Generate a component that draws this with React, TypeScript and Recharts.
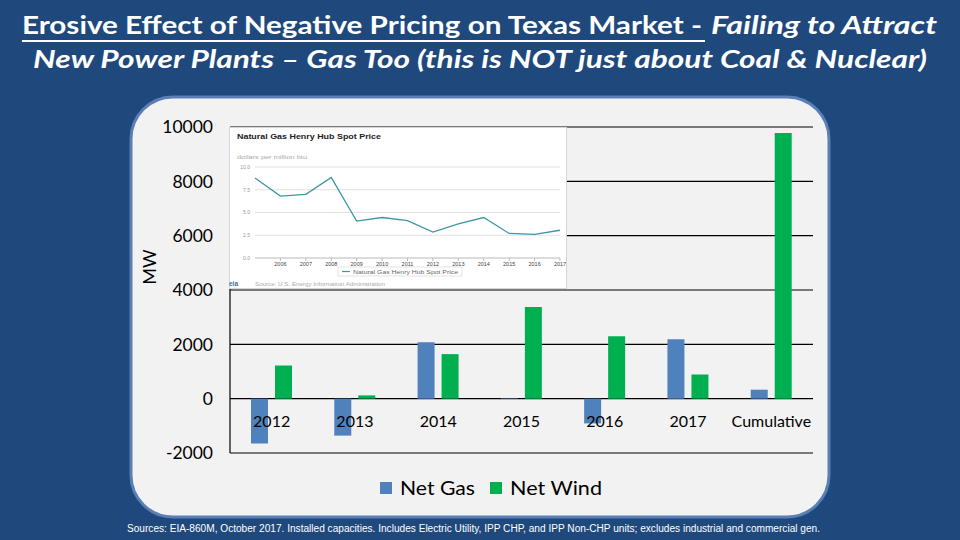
import React from 'react';
import {
  BarChart, Bar, XAxis, YAxis, CartesianGrid,
  LineChart, Line,
} from 'recharts';

// main chart: net capacity additions in Texas (MW)
const categories = ['2012', '2013', '2014', '2015', '2016', '2017', 'Cumulative'];
const netGas = [-1650, -1360, 2080, 15, -910, 2190, 330];
const netWind = [1220, 120, 1640, 3370, 2300, 890, 9780];
const mwTicks = [-2000, 0, 2000, 4000, 6000, 8000, 10000];
const seriesNames = ['Net Gas', 'Net Wind'];

// inset: Henry Hub spot price, dollars per million btu
const priceYears = [2005, 2006, 2007, 2008, 2009, 2010, 2011, 2012, 2013, 2014, 2015, 2016, 2017];
const hubPrice = [8.8, 6.8, 7.0, 8.85, 4.05, 4.45, 4.1, 2.85, 3.75, 4.45, 2.7, 2.6, 3.05];
const priceYearTicks = [2006, 2007, 2008, 2009, 2010, 2011, 2012, 2013, 2014, 2015, 2016, 2017];
const priceTicks = [0, 2.5, 5, 7.5, 10];

const BG = '#1F497D';
const GAS = '#4F81BD';
const WIND = '#00B050';
const HUB = '#3E95A8';
const FONT = 'Lato, "Open Sans", sans-serif';

const XTick = (props: any) => {
  const { x, y, payload } = props;
  return (
    <text x={x} y={y - 26} textAnchor="middle" fontSize={16} fontFamily={FONT} fill="#000">
      {payload.value}
    </text>
  );
};

export default function App() {
  const data = categories.map((c, i) => ({ year: c, gas: netGas[i], wind: netWind[i] }));
  const priceData = priceYears.map((y, i) => ({ year: y, price: hubPrice[i] }));

  return (
    <div style={{ position: 'absolute', left: 0, top: 0, width: 960, height: 540, background: BG, overflow: 'hidden' }}>
      <svg width={960} height={540} style={{ position: 'absolute', left: 0, top: 0 }}>
        <rect x={131} y={97} width={698} height={420} rx={42} fill="#F2F2F2" stroke="#5A7FB5" strokeWidth={3} />
      </svg>

      <div style={{ position: 'absolute', left: 0, top: 0 }}>
        <BarChart width={960} height={540} data={data} margin={{ top: 127, right: 147, bottom: 57, left: 0 }}
          barSize={17} barGap={7}>
          <CartesianGrid vertical={false} stroke="#000" strokeWidth={1.2} />
          <YAxis domain={[-2000, 10000]} ticks={mwTicks} interval={0} width={230}
            axisLine={{ stroke: '#000', strokeWidth: 1.2 }} tickLine={false} tickSize={0} tickMargin={17}
            tick={{ fontSize: 17.5, fill: '#000', fontFamily: FONT }} />
          <Bar dataKey="gas" name={seriesNames[0]} fill={GAS} isAnimationActive={false} />
          <Bar dataKey="wind" name={seriesNames[1]} fill={WIND} isAnimationActive={false} />
          <XAxis dataKey="year" interval={0} height={30} axisLine={false} tickLine={false}
            tickSize={0} tickMargin={0} tick={<XTick />} />
        </BarChart>
      </div>

      {/* inset price chart */}
      <div style={{ position: 'absolute', left: 229, top: 127, width: 338, height: 162, background: '#fff', boxShadow: 'inset 0 0 0 1px #d6d6d6' }}>
        <LineChart width={338} height={162} data={priceData} margin={{ top: 40, right: 7, bottom: 21, left: 0 }}>
          <CartesianGrid vertical={false} stroke="#d9d9d9" strokeWidth={0.8} />
          <XAxis dataKey="year" type="number" domain={[2005, 2017]} ticks={priceYearTicks} interval={0} height={10}
            axisLine={{ stroke: '#c8c8c8' }} tickLine={{ stroke: '#bbb' }} tickSize={3} tickMargin={1}
            tick={{ fontSize: 5.5, fill: '#444', fontFamily: 'Liberation Sans, Arial' }} />
          <YAxis domain={[0, 10]} ticks={priceTicks} interval={0} width={26} axisLine={false} tickLine={false}
            tickSize={0} tickMargin={5} tickFormatter={(v: number) => v.toFixed(1)}
            tick={{ fontSize: 5, fill: '#999', fontFamily: 'Liberation Sans, Arial' }} />
          <Line dataKey="price" type="linear" stroke={HUB} strokeWidth={1.3} dot={false} isAnimationActive={false} />
        </LineChart>
      </div>

      <svg width={960} height={540} style={{ position: 'absolute', left: 0, top: 0, pointerEvents: 'none' }}>
        {/* title */}
        <g fill="#fff" fontFamily={FONT} fontWeight="bold" fontSize={24}>
          <text x={22} y={34} textLength={680} lengthAdjust="spacingAndGlyphs">
            Erosive Effect of Negative Pricing on Texas Market -
          </text>
          <text x={711} y={34} textLength={226} lengthAdjust="spacingAndGlyphs" fontStyle="italic">
            Failing to Attract
          </text>
          <text x={33} y={68} textLength={894} lengthAdjust="spacingAndGlyphs" fontStyle="italic">
            New Power Plants – Gas Too (this is NOT just about Coal &amp; Nuclear)
          </text>
        </g>
        <line x1={22} x2={705} y1={41} y2={41} stroke="#fff" strokeWidth={2} />

        {/* axis title */}
        <text x={0} y={0} transform="translate(156 267) rotate(-90)" textAnchor="middle" fontSize={18}
          fontFamily={FONT} fill="#000">MW</text>

        {/* legend */}
        <rect x={380} y={482} width={12} height={12} fill={GAS} />
        <text x={400} y={495} fontSize={20} fontFamily={FONT} fill="#000" textLength={75} lengthAdjust="spacingAndGlyphs">{seriesNames[0]}</text>
        <rect x={490} y={482} width={12} height={12} fill={WIND} />
        <text x={510} y={495} fontSize={20} fontFamily={FONT} fill="#000" textLength={92} lengthAdjust="spacingAndGlyphs">{seriesNames[1]}</text>

        {/* inset labels */}
        <text x={237} y={139} fontSize={7.5} fontWeight="bold" fontFamily="Liberation Sans, Arial" fill="#222"
          textLength={144} lengthAdjust="spacingAndGlyphs">Natural Gas Henry Hub Spot Price</text>
        <text x={237} y={159} fontSize={5.5} fontFamily="Liberation Sans, Arial" fill="#aaa"
          textLength={70} lengthAdjust="spacingAndGlyphs">dollars per million btu</text>
        <rect x={338} y={267} width={124} height={9} fill="#fff" stroke="#d0d0d0" strokeWidth={0.6} />
        <line x1={342} x2={350} y1={271.5} y2={271.5} stroke={HUB} strokeWidth={1.2} />
        <text x={353} y={273.8} fontSize={5.5} fontFamily="Liberation Sans, Arial" fill="#666"
          textLength={105} lengthAdjust="spacingAndGlyphs">Natural Gas Henry Hub Spot Price</text>
        <text x={229} y={286} fontSize={6.5} fontWeight="bold" fontFamily="Liberation Sans, Arial" fill="#3a6ea5">eia</text>
        <text x={255} y={286} fontSize={5.5} fontFamily="Liberation Sans, Arial" fill="#aaa"
          textLength={130} lengthAdjust="spacingAndGlyphs">Source: U.S. Energy Information Administration</text>

        {/* footnote */}
        <text x={127} y={532} fontSize={10} fontFamily="Liberation Sans, Arial" fill="#fff"
          textLength={693} lengthAdjust="spacingAndGlyphs">
          Sources: EIA-860M, October 2017.  Installed capacities.  Includes Electric Utility, IPP CHP, and IPP Non-CHP units; excludes industrial and commercial gen.
        </text>
      </svg>
    </div>
  );
}
